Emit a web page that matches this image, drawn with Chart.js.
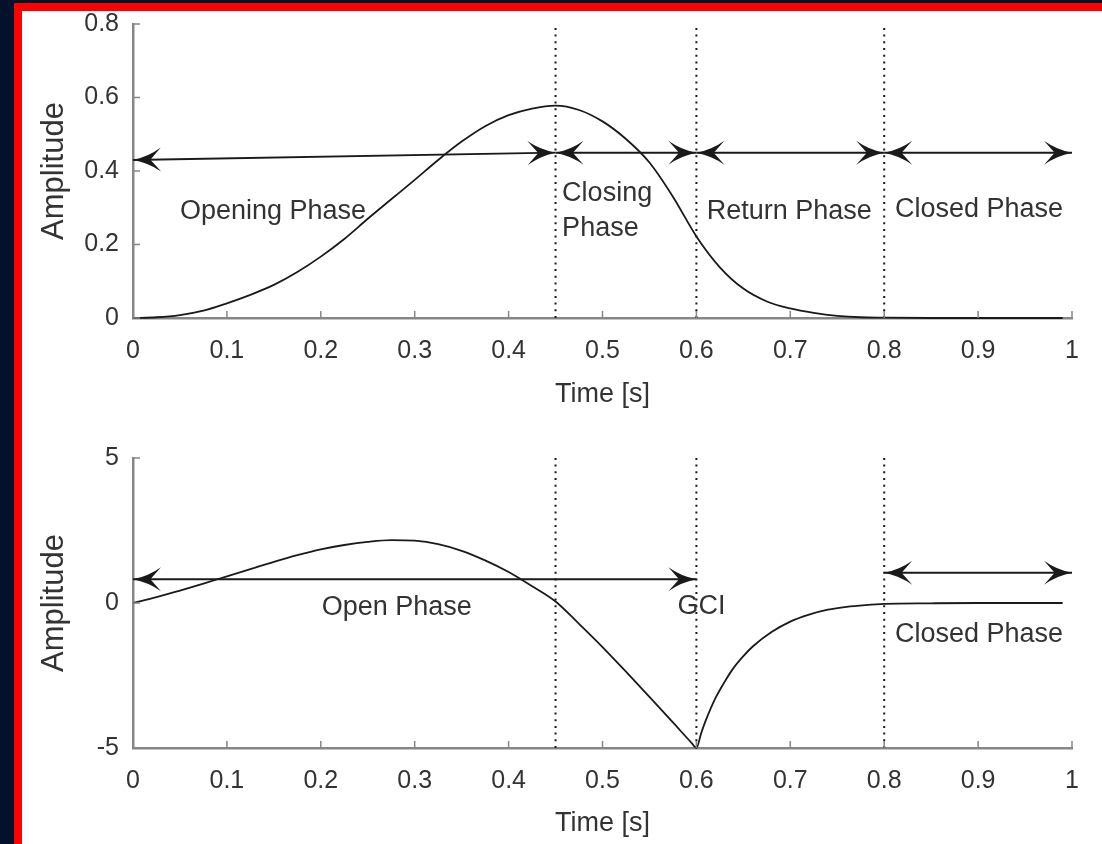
<!DOCTYPE html>
<html>
<head>
<meta charset="utf-8">
<title>Glottal flow and derivative</title>
<script src="https://cdn.jsdelivr.net/npm/chart.js@4.4.1/dist/chart.umd.min.js"></script>
<style>
    html, body { margin: 0; padding: 0; width: 1102px; height: 844px; overflow: hidden; background: #03112a; }
    #frame { position: absolute; left: 14px; top: 3px; right: 0; bottom: 0; background: #ff0000; }
    #sheet { position: absolute; left: 22px; top: 11px; right: 0; bottom: 0; background: #ffffff; }
    #sheet canvas { position: absolute; left: 0; }
</style>
</head>
<body>
<div id="frame"></div>
<div id="sheet">
    <canvas id="flowChart" width="1080" height="410" style="top:0px"></canvas>
    <canvas id="derivChart" width="1080" height="423" style="top:410px"></canvas>
</div>
<script>
// valores
var timeFlow = [0, 0.025, 0.05, 0.075, 0.1, 0.125, 0.15, 0.175, 0.2, 0.225, 0.25, 0.275, 0.3, 0.325, 0.35, 0.375,
    0.4, 0.425, 0.45, 0.475, 0.5, 0.525, 0.55, 0.575, 0.6, 0.625, 0.65, 0.675, 0.7, 0.725, 0.75, 0.775, 0.8,
    0.85, 0.9, 0.95, 0.99];
var flowValues = [0, 0.002, 0.008, 0.02, 0.04, 0.063, 0.09, 0.125, 0.167, 0.215, 0.27, 0.323, 0.376, 0.43, 0.48, 0.522,
    0.552, 0.57, 0.578, 0.566, 0.535, 0.487, 0.423, 0.33, 0.222, 0.138, 0.08, 0.045, 0.026, 0.014, 0.006, 0.002, 0.001,
    0, 0, 0, 0];

var timeDeriv = [0, 0.025, 0.05, 0.075, 0.1, 0.125, 0.15, 0.175, 0.2, 0.225, 0.25, 0.275, 0.3, 0.325, 0.35, 0.375,
    0.4, 0.425, 0.45, 0.475, 0.5, 0.525, 0.55, 0.575, 0.595, 0.6, 0.605, 0.61, 0.62, 0.63, 0.64, 0.65, 0.66, 0.68,
    0.7, 0.72, 0.74, 0.76, 0.78, 0.8, 0.85, 0.9, 0.95, 0.99];
var derivValues = [0, 0.2, 0.43, 0.67, 0.92, 1.17, 1.42, 1.65, 1.85, 2.0, 2.11, 2.17, 2.15, 2.03, 1.8, 1.47,
    1.07, 0.58, 0.05, -0.72, -1.52, -2.37, -3.24, -4.12, -4.83, -5.0, -4.5, -4.05, -3.3, -2.72, -2.22, -1.83, -1.5, -1.0,
    -0.64, -0.4, -0.23, -0.13, -0.07, -0.03, -0.01, 0, 0, 0];

var timeTicks = [0, 0.1, 0.2, 0.3, 0.4, 0.5, 0.6, 0.7, 0.8, 0.9, 1];
var timeTickLabels = ["0", "0.1", "0.2", "0.3", "0.4", "0.5", "0.6", "0.7", "0.8", "0.9", "1"];
var flowTicks = [0, 0.2, 0.4, 0.6, 0.8];
var flowTickLabels = ["0", "0.2", "0.4", "0.6", "0.8"];
var derivTicks = [-5, 0, 5];
var derivTickLabels = ["-5", "0", "5"];

// instantes de las lineas punteadas
var phaseMarks = [0.45, 0.6, 0.8];

// flechas de las fases (arriba)
var flowArrowStart = [0, 0.45, 0.6, 0.8];
var flowArrowEnd = [0.45, 0.6, 0.8, 1];
var flowArrowStartLevel = [0.43, 0.45, 0.45, 0.45];
var flowArrowEndLevel = [0.45, 0.45, 0.45, 0.45];

// flechas de las fases (abajo)
var derivArrowStart = [0, 0.8];
var derivArrowEnd = [0.6, 1];
var derivArrowLevel = [0.82, 1.04];

// textos
var flowLabels = ["Opening Phase", "Closing", "Phase", "Return Phase", "Closed Phase"];
var flowLabelTime = [0.05, 0.457, 0.457, 0.611, 0.8115];
var flowLabelLevel = [0.29, 0.34, 0.244, 0.29, 0.294];
var derivLabels = ["Open Phase", "GCI", "Closed Phase"];
var derivLabelTime = [0.201, 0.58, 0.8115];
var derivLabelLevel = [-0.17, -0.13, -1.1];

var FONT = "'Liberation Sans', Arial, Helvetica, sans-serif";
var TEXT_COLOR = "#333333";
var AXIS_COLOR = "#878787";
var INK = "#1a1a1a";

function toPoints(xs, ys) {
    return xs.map(function (x, i) { return { x: x, y: ys[i] }; });
}

function lineSet(points, dash, width) {
    return {
        data: points,
        borderColor: INK,
        borderWidth: width,
        borderDash: dash || [],
        pointRadius: 0,
        fill: false,
        tension: 0,
        clip: false
    };
}

// punta de flecha estilo MATLAB (vback2)
function drawHead(ctx, x, y, angle) {
    var len = 28, half = 12;
    ctx.save();
    ctx.translate(x, y);
    ctx.rotate(angle);
    ctx.beginPath();
    ctx.moveTo(0, 0);
    ctx.quadraticCurveTo(-len * 0.55, -half * 0.25, -len, -half);
    ctx.lineTo(-len * 0.62, 0);
    ctx.lineTo(-len, half);
    ctx.quadraticCurveTo(-len * 0.55, half * 0.25, 0, 0);
    ctx.closePath();
    ctx.fillStyle = INK;
    ctx.fill();
    ctx.restore();
}

function phasePlugin(arrows, labels) {
    return {
        id: "phaseMarks",
        afterDatasetsDraw: function (chart) {
            var ctx = chart.ctx;
            var xs = chart.scales.x, ys = chart.scales.y;
            var area = chart.chartArea;

            // marcas de division hacia dentro
            ctx.save();
            ctx.strokeStyle = AXIS_COLOR;
            ctx.lineWidth = 1.5;
            ctx.beginPath();
            xs.ticks.forEach(function (t) {
                var px = xs.getPixelForValue(t.value);
                ctx.moveTo(px, area.bottom);
                ctx.lineTo(px, area.bottom - 7);
            });
            ys.ticks.forEach(function (t) {
                var py = ys.getPixelForValue(t.value);
                ctx.moveTo(area.left, py);
                ctx.lineTo(area.left + 7, py);
            });
            ctx.stroke();
            ctx.restore();

            arrows.forEach(function (a) {
                var x1 = xs.getPixelForValue(a.x1), y1 = ys.getPixelForValue(a.y1);
                var x2 = xs.getPixelForValue(a.x2), y2 = ys.getPixelForValue(a.y2);
                var ang = Math.atan2(y2 - y1, x2 - x1);
                drawHead(ctx, x2, y2, ang);
                drawHead(ctx, x1, y1, ang + Math.PI);
            });

            ctx.save();
            ctx.font = "27px " + FONT;
            ctx.fillStyle = TEXT_COLOR;
            ctx.textAlign = "left";
            ctx.textBaseline = "middle";
            labels.forEach(function (l) {
                ctx.fillText(l.text, xs.getPixelForValue(l.x), ys.getPixelForValue(l.y));
            });
            ctx.restore();
        }
    };
}

function buildChart(canvasId, cfg) {
    var datasets = [lineSet(toPoints(cfg.time, cfg.values), null, 1.8)];
    datasets[0].cubicInterpolationMode = "monotone";

    phaseMarks.forEach(function (m) {
        datasets.push(lineSet([{ x: m, y: cfg.yMin }, { x: m, y: cfg.yMax }], [2, 4.7], 2));
    });
    cfg.arrows.forEach(function (a) {
        datasets.push(lineSet([{ x: a.x1, y: a.y1 }, { x: a.x2, y: a.y2 }], null, 2));
    });

    return new Chart(document.getElementById(canvasId).getContext("2d"), {
        type: "line",
        data: { datasets: datasets },
        options: {
            responsive: false,
            animation: false,
            events: [],
            layout: { padding: { top: cfg.padTop, right: 30, left: 0, bottom: 0 } },
            plugins: { legend: { display: false }, tooltip: { enabled: false } },
            scales: {
                x: {
                    type: "linear",
                    min: 0,
                    max: 1,
                    afterBuildTicks: function (s) { s.ticks = timeTicks.map(function (v) { return { value: v }; }); },
                    afterFit: function (s) { s.height = cfg.xHeight; },
                    ticks: {
                        callback: function (v, i) { return timeTickLabels[i]; },
                        font: { family: FONT, size: 25 },
                        color: TEXT_COLOR,
                        padding: 18,
                        maxRotation: 0,
                        autoSkip: false
                    },
                    grid: { display: false, drawTicks: false },
                    border: { display: true, color: AXIS_COLOR, width: 2.5 },
                    title: {
                        display: true,
                        text: "Time [s]",
                        font: { family: FONT, size: 27 },
                        color: TEXT_COLOR,
                        padding: { top: 0, bottom: cfg.titlePad }
                    }
                },
                y: {
                    type: "linear",
                    min: cfg.yMin,
                    max: cfg.yMax,
                    afterBuildTicks: function (s) { s.ticks = cfg.yTicks.map(function (v) { return { value: v }; }); },
                    afterFit: function (s) {
                        s.width = 111;
                        // sin margen extra por la etiqueta superior
                        s.paddingTop = 0;
                        s.paddingBottom = 0;
                    },
                    ticks: {
                        callback: function (v, i) { return cfg.yTickLabels[i]; },
                        font: { family: FONT, size: 25 },
                        color: TEXT_COLOR,
                        padding: 14
                    },
                    grid: { display: false, drawTicks: false },
                    border: { display: true, color: AXIS_COLOR, width: 2.5 },
                    title: {
                        display: true,
                        text: "Amplitude",
                        font: { family: FONT, size: 31 },
                        color: TEXT_COLOR,
                        padding: { top: 14, bottom: 0 }
                    }
                }
            }
        },
        plugins: [phasePlugin(cfg.arrows, cfg.labels)]
    });
}

var flowArrows = flowArrowStart.map(function (s, i) {
    return { x1: s, y1: flowArrowStartLevel[i], x2: flowArrowEnd[i], y2: flowArrowEndLevel[i] };
});
var derivArrows = derivArrowStart.map(function (s, i) {
    return { x1: s, y1: derivArrowLevel[i], x2: derivArrowEnd[i], y2: derivArrowLevel[i] };
});

buildChart("flowChart", {
    time: timeFlow, values: flowValues,
    yMin: 0, yMax: 0.8, yTicks: flowTicks, yTickLabels: flowTickLabels,
    padTop: 13, xHeight: 103, titlePad: 10,
    arrows: flowArrows,
    labels: flowLabels.map(function (t, i) { return { text: t, x: flowLabelTime[i], y: flowLabelLevel[i] }; })
});

buildChart("derivChart", {
    time: timeDeriv, values: derivValues,
    yMin: -5, yMax: 5, yTicks: derivTicks, yTickLabels: derivTickLabels,
    padTop: 37, xHeight: 96, titlePad: 4,
    arrows: derivArrows,
    labels: derivLabels.map(function (t, i) { return { text: t, x: derivLabelTime[i], y: derivLabelLevel[i] }; })
});
</script>
</body>
</html>
